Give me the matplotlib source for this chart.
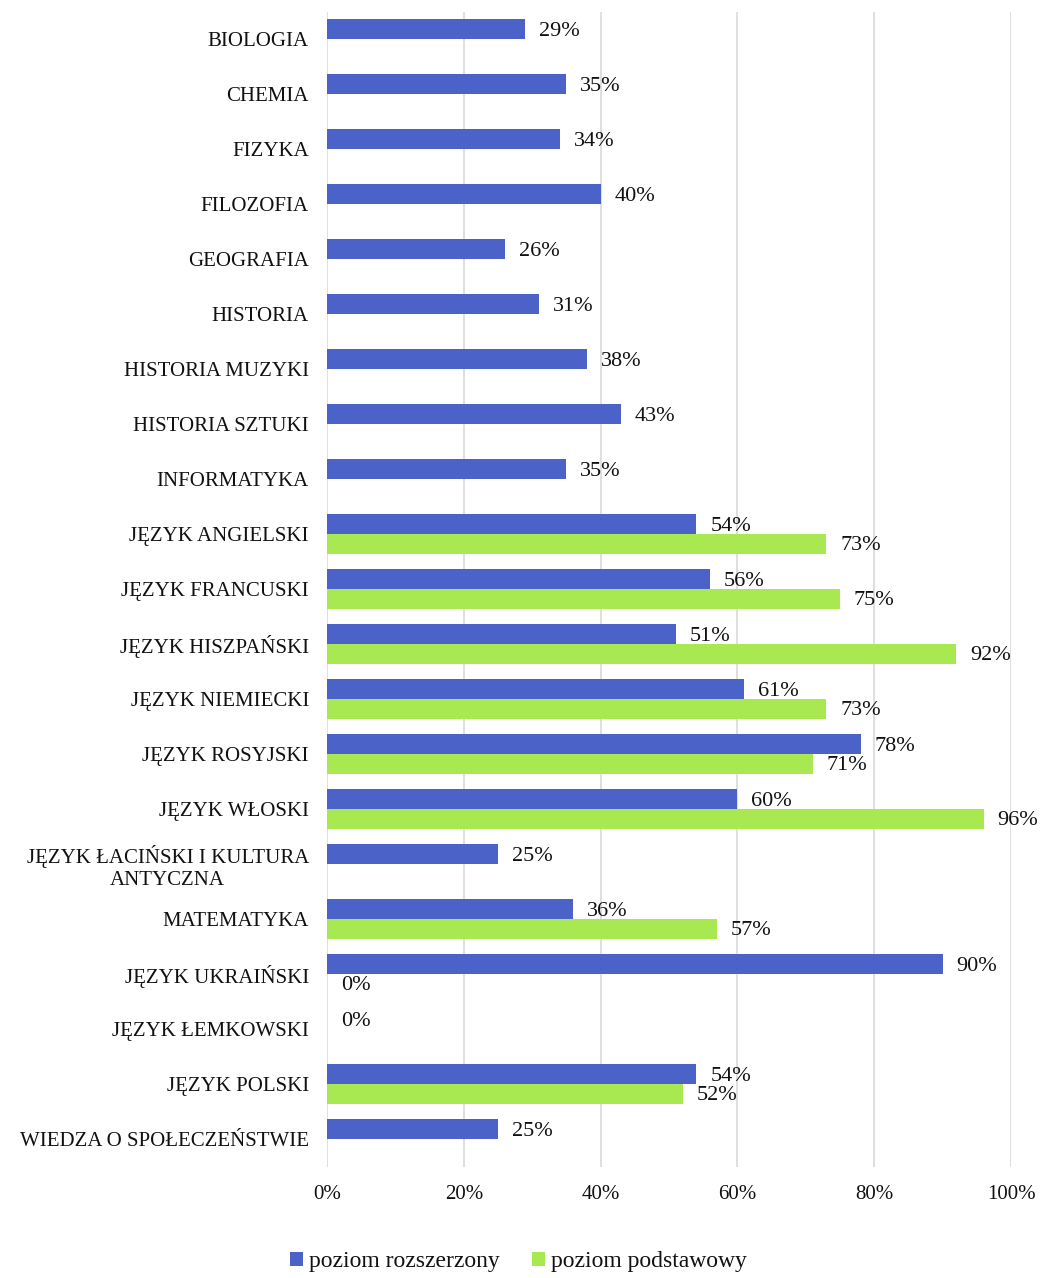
import matplotlib
matplotlib.use("Agg")
import matplotlib.pyplot as plt
import numpy as np
from matplotlib.patches import Patch

categories = [
    "BIOLOGIA", "CHEMIA", "FIZYKA", "FILOZOFIA", "GEOGRAFIA", "HISTORIA",
    "HISTORIA MUZYKI", "HISTORIA SZTUKI", "INFORMATYKA", "JĘZYK ANGIELSKI",
    "JĘZYK FRANCUSKI", "JĘZYK HISZPAŃSKI", "JĘZYK NIEMIECKI", "JĘZYK ROSYJSKI",
    "JĘZYK WŁOSKI", "JĘZYK ŁACIŃSKI I KULTURA\nANTYCZNA", "MATEMATYKA",
    "JĘZYK UKRAIŃSKI", "JĘZYK ŁEMKOWSKI", "JĘZYK POLSKI", "WIEDZA O SPOŁECZEŃSTWIE",
]
rozszerzony = [29, 35, 34, 40, 26, 31, 38, 43, 35, 54, 56, 51, 61, 78, 60, 25, 36, 90, 0, 54, 25]
podstawowy = [np.nan, np.nan, np.nan, np.nan, np.nan, np.nan, np.nan, np.nan, np.nan,
              73, 75, 92, 73, 71, 96, np.nan, 57, 0, np.nan, 52, np.nan]
series_names = ["poziom rozszerzony", "poziom podstawowy"]
x_ticks = [0, 20, 40, 60, 80, 100]

BLUE = "#4b63c9"
GREEN = "#a8e851"
TEXT = "#111111"

plt.rcParams['font.family'] = ['Liberation Serif', 'DejaVu Serif']

W, H = 1043, 1278
fig = plt.figure(figsize=(W / 100, H / 100), dpi=100)
ax_left, ax_right, ax_top, ax_bottom = 327, 1011, 11.5, 1166.5
ax = fig.add_axes([ax_left / W, 1 - ax_bottom / H, (ax_right - ax_left) / W, (ax_bottom - ax_top) / H])

y = np.arange(len(categories))
h = 0.355
ax.barh(y - h / 2, rozszerzony, height=h, color=BLUE, zorder=2)
ax.barh(y + h / 2, podstawowy, height=h, color=GREEN, zorder=2)

for yy, v in zip(y - h / 2, rozszerzony):
    if not np.isnan(v):
        ax.annotate(f"{v:.0f}%", xy=(v, yy), xytext=(10, -1.5), textcoords="offset points",
                    ha="left", va="center", fontsize=16, color=TEXT)
for yy, v in zip(y + h / 2, podstawowy):
    if not np.isnan(v):
        ax.annotate(f"{v:.0f}%", xy=(v, yy), xytext=(10, -1.5), textcoords="offset points",
                    ha="left", va="center", fontsize=16, color=TEXT)

ax.set_xlim(0, 100)
ax.set_ylim(len(categories) - 0.5, -0.5)
ax.set_xticks(x_ticks)
ax.set_xticklabels([f"{t}%" for t in x_ticks], fontsize=15, color=TEXT)
ax.set_yticks(y)
ax.set_yticklabels(categories, fontsize=15, color=TEXT, multialignment="center")
ax.tick_params(axis="both", length=0)
ax.tick_params(axis="y", pad=13)
ax.tick_params(axis="x", pad=13)
ax.xaxis.grid(True, color="#d9d9d9", linewidth=1.2, zorder=0)
ax.set_axisbelow(True)
for s in ax.spines.values():
    s.set_visible(False)

handles = [Patch(facecolor=BLUE), Patch(facecolor=GREEN)]
fig.legend(handles, series_names, loc="center", bbox_to_anchor=(0.497, 1 - 1262 / H), ncol=2,
           frameon=False, fontsize=17, handlelength=0.55, handleheight=0.55,
           handletextpad=0.25, columnspacing=1.4, labelcolor=TEXT)

fig.savefig("out.png", dpi=100)
